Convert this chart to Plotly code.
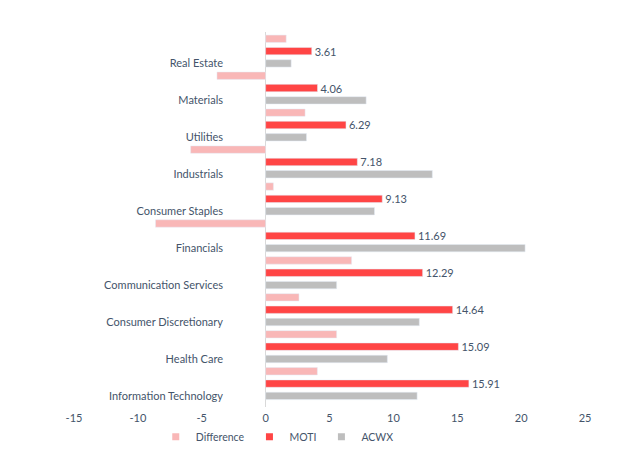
import plotly.graph_objects as go

categories = ["Information Technology", "Health Care", "Consumer Discretionary",
              "Communication Services", "Financials", "Consumer Staples",
              "Industrials", "Utilities", "Materials", "Real Estate"]
moti = [15.91, 15.09, 14.64, 12.29, 11.69, 9.13, 7.18, 6.29, 4.06, 3.61]
acwx = [11.86, 9.53, 12.03, 5.56, 20.31, 8.52, 13.05, 3.20, 7.87, 2.00]
difference = [4.05, 5.56, 2.61, 6.73, -8.62, 0.61, -5.87, 3.09, -3.81, 1.61]
x_ticks = [-15, -10, -5, 0, 5, 10, 15, 20, 25]
x_tick_labels = ["-15", "-10", "-5", "0", "5", "10", "15", "20", "25"]

C_DIFF = "#F9B7B7"
C_MOTI = "#FF4545"
C_ACWX = "#BEBEBE"
TXT = "#44546A"
FONT = "Lato"
FS = 10.5

fig = go.Figure()
W = 0.2
fig.add_trace(go.Bar(y=categories, x=acwx, orientation="h", marker_color=C_ACWX,
                     width=W, offset=-0.1, showlegend=False, name="ACWX"))
fig.add_trace(go.Bar(y=categories, x=moti, orientation="h", marker_color=C_MOTI,
                     width=W, offset=0.233, showlegend=False, name="MOTI",
                     texttemplate="%{x:.2f}", textposition="outside",
                     textfont=dict(color=TXT, size=FS + 0.5, family=FONT),
                     cliponaxis=False, constraintext="none"))
fig.add_trace(go.Bar(y=categories, x=difference, orientation="h", marker_color=C_DIFF,
                     width=W, offset=0.567, showlegend=False, name="Difference"))

for nm, col in [("Difference", C_DIFF), ("MOTI", C_MOTI), ("ACWX", C_ACWX)]:
    fig.add_trace(go.Scatter(x=[None], y=[None], mode="markers", name=nm,
                             marker=dict(symbol="square", size=7, color=col)))

fig.update_layout(
    width=640, height=455,
    margin=dict(l=74, r=55, t=32, b=48, autoexpand=False),
    paper_bgcolor="white", plot_bgcolor="white",
    barmode="overlay",
    font=dict(family=FONT, size=FS, color=TXT),
    showlegend=True,
    legend=dict(orientation="h", x=0.16, xanchor="left",
                yref="container", y=0.04, yanchor="middle",
                font=dict(size=FS, color=TXT, family=FONT), itemwidth=30,
                tracegroupgap=0),
    xaxis=dict(range=[-15, 25], tickvals=x_ticks, ticktext=x_tick_labels,
               showgrid=False, ticklabelstandoff=3,
               zeroline=True, zerolinecolor="#D9D9D9", zerolinewidth=1,
               showline=False, ticks="", tickfont=dict(size=FS + 0.5, color=TXT)),
    yaxis=dict(type="category", categoryorder="array", categoryarray=categories,
               range=[-0.3, 9.85], showgrid=False, zeroline=False, showline=False,
               ticks="", anchor="free", position=0.2916,
               tickfont=dict(size=FS + 0.5, color=TXT)),
)

fig.write_html("out.html")
